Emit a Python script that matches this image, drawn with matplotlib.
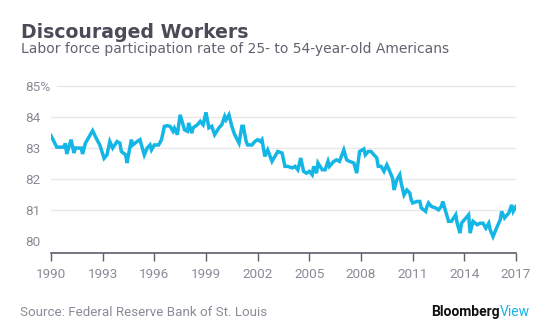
import matplotlib
matplotlib.use("Agg")
import matplotlib.pyplot as plt
import numpy as np

# Labor force participation rate, ages 25-54 (percent), by months since Jan 1990
months = [0, 4, 9, 10, 11, 14, 16, 17, 21, 22, 24, 29, 32, 34, 37, 39, 41, 43, 46, 48,
          49, 52, 53, 54, 56, 57, 60, 62, 63, 65, 67, 69, 70, 72, 75, 77, 79, 81, 83, 85,
          86, 88, 90, 92, 93, 95, 96, 98, 99, 102, 104, 106, 108, 110, 112, 114, 117, 119, 121, 122,
          124, 126, 128, 131, 133, 134, 136, 137, 140, 142, 144, 146, 147, 149, 151, 154, 156, 158, 161, 163,
          165, 168, 170, 172, 174, 176, 178, 180, 182, 183, 185, 186, 189, 191, 193, 194, 197, 199, 201, 204,
          206, 208, 211, 213, 215, 218, 219, 221, 223, 225, 227, 228, 230, 232, 234, 235, 237, 238, 239, 241,
          243, 244, 246, 248, 250, 251, 252, 255, 257, 258, 261, 262, 263, 265, 268, 270, 272, 273, 275, 277,
          279, 282, 283, 285, 286, 288, 291, 292, 294, 297, 299, 301, 303, 305, 306, 308, 311, 313, 314, 316,
          319, 321, 322, 324]
rate = [83.40, 83.03, 83.03, 83.15, 82.81, 83.27, 82.84, 83.00, 83.00, 82.81, 83.16, 83.56, 83.27, 83.10, 82.67, 82.78, 83.21, 83.00, 83.21, 83.16,
        82.89, 82.78, 82.52, 82.78, 83.27, 83.10, 83.21, 83.27, 83.10, 82.78, 83.00, 83.10, 82.94, 83.10, 83.10, 83.27, 83.70, 83.72, 83.70, 83.54,
        83.64, 83.43, 84.07, 83.75, 83.59, 83.54, 83.81, 83.48, 83.65, 83.75, 83.86, 83.75, 84.15, 83.65, 83.70, 83.43, 83.65, 83.75, 84.02, 83.91,
        84.07, 83.70, 83.43, 83.16, 83.70, 83.70, 83.21, 83.10, 83.10, 83.21, 83.27, 83.21, 83.27, 82.73, 82.94, 82.57, 82.73, 82.89, 82.84, 82.41,
        82.41, 82.36, 82.41, 82.30, 82.68, 82.25, 82.19, 82.25, 82.14, 82.41, 82.19, 82.52, 82.30, 82.30, 82.57, 82.41, 82.57, 82.62, 82.57, 82.94,
        82.62, 82.57, 82.52, 82.19, 82.89, 82.97, 82.78, 82.89, 82.89, 82.78, 82.68, 82.41, 82.41, 82.25, 82.46, 82.36, 82.14, 82.03, 81.65, 81.98,
        82.14, 81.87, 81.49, 81.65, 81.55, 81.33, 81.23, 81.28, 81.28, 81.07, 80.96, 81.12, 81.23, 81.12, 81.07, 81.01, 81.12, 81.28, 80.96, 80.64,
        80.64, 80.85, 80.58, 80.26, 80.58, 80.69, 80.85, 80.26, 80.64, 80.53, 80.58, 80.58, 80.42, 80.58, 80.37, 80.15, 80.48, 80.69, 80.96, 80.75,
        80.91, 81.17, 80.96, 81.12]

year_ticks = [1990, 1993, 1996, 1999, 2002, 2005, 2008, 2011, 2014, 2017]
rate_ticks = [80, 81, 82, 83, 84, 85]
rate_tick_labels = ["80", "81", "82", "83", "84", "85%"]

title = "Discouraged Workers"
subtitle = "Labor force participation rate of 25- to 54-year-old Americans"
source = "Source: Federal Reserve Bank of St. Louis"

LINE = "#14b6e6"
GRID = "#e8e8ea"
AXIS = "#5f5f6b"
LABEL = "#8b8b97"
TITLE = "#4b4b57"

plt.rcParams["font.family"] = ["Roboto", "DejaVu Sans"]

W, H = 557, 336
fig = plt.figure(figsize=(W / 100, H / 100), dpi=100)
ax = fig.add_axes([51 / W, 83 / H, 465 / W, 168.6 / H])

x = 1990 + np.array(months) / 12.0
ax.plot(x, rate, color=LINE, lw=2.5, solid_joinstyle="miter", zorder=3)

ax.set_xlim(1990, 2017)
ax.set_ylim(79.62, 85.05)

ax.set_xticks(year_ticks)
ax.set_xticklabels([str(y) for y in year_ticks])
ax.set_yticks(rate_ticks)
ax.set_yticklabels(rate_tick_labels)

ax.tick_params(axis="x", length=6, width=1, color=AXIS, labelsize=9.7,
               labelcolor=LABEL, pad=4.5)
ax.tick_params(axis="y", length=0, labelsize=9.7, labelcolor=LABEL, pad=18.5)
for lbl in ax.get_yticklabels():
    lbl.set_horizontalalignment("left")

# horizontal guides; the top one leaves room for the "%" label
for v in rate_ticks[1:-1]:
    ax.axhline(v, color=GRID, lw=1, zorder=1)
ax.axhline(rate_ticks[-1], xmin=6 / 465, color=GRID, lw=1, zorder=1)

for side in ("top", "right", "left"):
    ax.spines[side].set_visible(False)
ax.spines["bottom"].set_color(AXIS)
ax.spines["bottom"].set_linewidth(1.2)

fig.text(21 / W, 1 - 38.5 / H, title, fontsize=13.6, fontweight="bold",
         color=TITLE, va="baseline", ha="left", family="DejaVu Sans")
fig.text(21 / W, 1 - 53 / H, subtitle, fontsize=10.0, color="#63636f",
         va="baseline", ha="left", family="DejaVu Sans")
fig.text(20.5 / W, 1 - 316 / H, source, fontsize=9.6, color=LABEL,
         va="baseline", ha="left")

brand = fig.text(431 / W, 1 - 316 / H, "Bloomberg", fontsize=10.0,
                 fontweight="bold", color="#111111", va="baseline", ha="left")
fig.canvas.draw()
bb = brand.get_window_extent()
fig.text(bb.x1 / fig.bbox.width, 1 - 316 / H, "View", fontsize=10.0,
         color=LINE, va="baseline", ha="left")

fig.savefig("out.png", dpi=100, facecolor="white")
